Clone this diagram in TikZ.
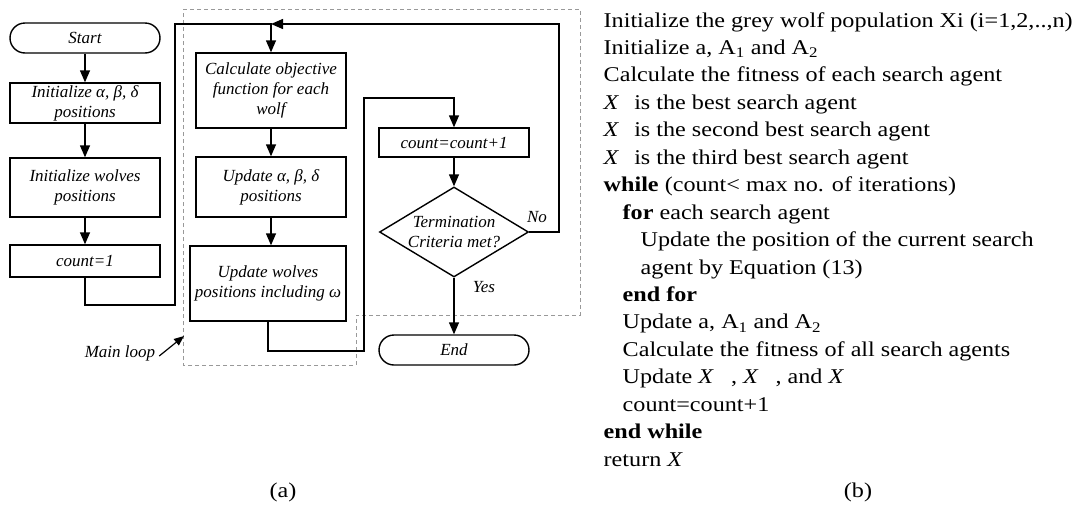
\documentclass[tikz,border=0pt]{standalone}
\usepackage{fontspec}
\setmainfont{Liberation Serif}
\newfontfamily\codefont[FakeStretch=1.15]{Liberation Serif}
\usetikzlibrary{arrows.meta,shapes.geometric}
\begin{document}
\begin{tikzpicture}[x=1pt,y=-1pt,
  line width=1.4pt,
  arr/.style={-{Triangle[length=12pt,width=10pt]}},
  fcfont/.style={font=\fontsize{17}{20}\selectfont\itshape},
  box/.style={draw, rectangle, minimum width=150pt, align=center, fcfont, inner sep=2pt},
  term/.style={box, rounded corners=15pt, minimum height=30pt},
  dec/.style={draw, diamond, minimum width=149pt, minimum height=90pt, inner sep=0pt},
  loopline/.style={draw=gray!80, line width=0.8pt, dash pattern=on 4pt off 3pt},
  code/.style={anchor=base west, inner sep=0pt, font=\codefont\fontsize{21}{24}\selectfont},
  captext/.style={anchor=base, inner sep=0pt, font=\codefont\fontsize{21}{24}\selectfont}
]
\useasboundingbox (0,0) rectangle (1072,504);

% main loop dashed region
\draw[loopline] (183,9) -- (580,9) -- (580,315) -- (356,315) -- (356,365) -- (183,365) -- cycle;

% left column
\node[term] (start) at (85,38) {Start};
\node[box, minimum height=40pt] (ini1) at (85,103) {Initialize α, β, δ\\positions};
\node[box, minimum height=59pt] (ini2) at (85,187.5) {Initialize wolves\\positions};
\node[box, minimum height=32pt] (cnt1) at (85,261) {count=1};

% middle column
\node[box, minimum height=75pt] (calc) at (271,90.5) {Calculate objective\\function for each\\wolf};
\node[box, minimum height=60pt] (upd1) at (271,187) {Update α, β, δ\\positions};
\node[box, minimum width=156pt, minimum height=75pt] (upd2) at (268,283.5) {Update wolves\\positions including ω};

% right column
\node[box, minimum height=29pt] (cinc) at (454,142.5) {count=count+1};
\node[dec, label={[fcfont, align=center]center:Termination\\Criteria met?}] (dec) at (454,232) {};
\node[term] (end) at (454,350) {End};

% junction coordinates
\coordinate (lp) at (175,305);
\coordinate (tp) at (559,24);
\coordinate (mp) at (364,351);
\coordinate (mt) at (364,98);

% connectors
\draw[arr] (start) -- (ini1);
\draw[arr] (ini1) -- (ini2);
\draw[arr] (ini2) -- (cnt1);
\draw[arr] (cnt1.south) |- (lp) |- (calc.north |- tp) -- (calc.north);
\draw[arr] (calc) -- (upd1);
\draw[arr] (upd1.south) -- (upd1.south |- upd2.north);
\draw[arr] (upd2.south) |- (mp) |- (cinc.north |- mt) -- (cinc.north);
\draw[arr] (cinc) -- (dec);
\draw[arr] (dec.east) -| (tp) -- (calc.north |- tp);
\draw[arr] (dec.south) -- (end);

\node[fcfont] (no) at (537,217) {No};
\node[fcfont] (yes) at (484,287) {Yes};

% main loop label
\node[fcfont] (ml) at (120,353) {Main loop};
\coordinate (mlt) at (184,336);
\draw[-{Triangle[length=10pt,width=8pt]}, line width=1.2pt] (ml.east) ++(0,3) -- (mlt);

% pseudo code
\node[code] (l1) at (603,27) {Initialize the grey wolf population Xi (i=1,2,..,n)};
\node[code] (l2) at (603,54.45) {Initialize a, A\textsubscript{1} and A\textsubscript{2}};
\node[code] (l3) at (603,81.9) {Calculate the fitness of each search agent};
\node[code] (l4) at (603,109.35) {\textit{X}\hspace{9pt} is the best search agent};
\node[code] (l5) at (603,136.8) {\textit{X}\hspace{9pt} is the second best search agent};
\node[code] (l6) at (603,164.25) {\textit{X}\hspace{9pt} is the third best search agent};
\node[code] (l7) at (603,191.7) {\textbf{while} (count< max no. of iterations)};
\node[code] (l8) at (622,219.15) {\textbf{for} each search agent};
\node[code] (l9) at (640,246.6) {Update the position of the current search};
\node[code] (l10) at (640,274.05) {agent by Equation (13)};
\node[code] (l11) at (622,301.5) {\textbf{end for}};
\node[code] (l12) at (622,328.95) {Update a, A\textsubscript{1} and A\textsubscript{2}};
\node[code] (l13) at (622,356.4) {Calculate the fitness of all search agents};
\node[code] (l14) at (622,383.85) {Update \textit{X}\hspace{17pt}, \textit{X}\hspace{17pt}, and \textit{X}};
\node[code] (l15) at (622,411.3) {count=count+1};
\node[code] (l16) at (603,438.75) {\textbf{end while}};
\node[code] (l17) at (603,466.2) {return \textit{X}};

% captions
\node[captext] (ca) at (283,497) {(a)};
\node[captext] (cb) at (858,497) {(b)};
\end{tikzpicture}
\end{document}
